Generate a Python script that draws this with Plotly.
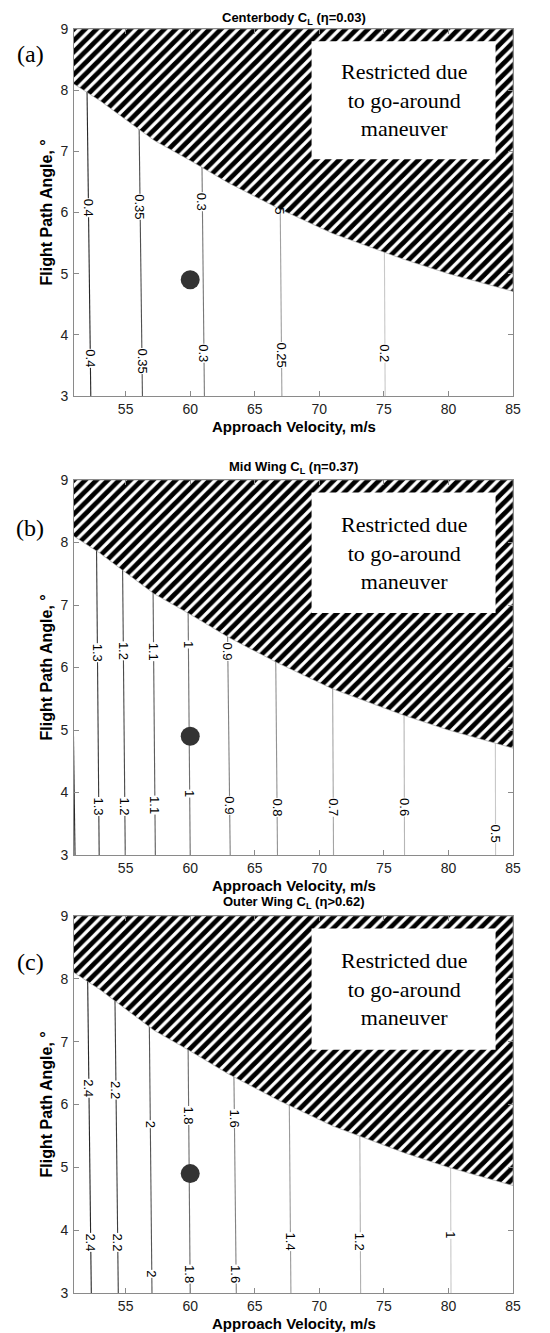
import plotly.graph_objects as go

# ---------------- data ----------------
panel_titles = ["Centerbody C<sub>L</sub> (η=0.03)",
                "Mid Wing C<sub>L</sub> (η=0.37)",
                "Outer Wing C<sub>L</sub> (η>0.62)"]
panel_tags = ["(a)", "(b)", "(c)"]

# restricted-region boundary (go-around limit)
boundary_v = [51, 53, 55, 57.2, 60, 63, 66.8, 71, 76.6, 80, 85]
boundary_gamma = [8.1, 7.83, 7.52, 7.18, 6.85, 6.48, 6.07, 5.66, 5.23, 5.0, 4.71]

# design point
design_v = [60]
design_gamma = [4.9]

# panel (a) contours
a_levels = ["0.4", "0.35", "0.3", "0.25", "0.2"]
a_v_low = [52.3, 56.3, 61.1, 67.1, 75.1]
a_v_high = [51.95, 55.95, 60.8, 66.85, 74.95]
a_lab_up = [6.07, 6.1, 6.17, None, None]
a_lab_low = [3.61, 3.58, 3.70, 3.67, 3.7]

# panel (b) contours
b_levels = ["1.4", "1.3", "1.2", "1.1", "1", "0.9", "0.8", "0.7", "0.6", "0.5"]
b_v_low = [51.08, 52.95, 54.97, 57.3, 60.0, 63.1, 66.76, 71.1, 76.6, 83.65]
b_v_high = [50.7, 52.7, 54.7, 57.05, 59.75, 62.75, 66.5, 70.95, 76.5, 83.6]
b_lab_up = [None, 6.23, 6.26, 6.26, 6.37, 6.26, None, None, None, None]
b_lab_low = [None, 3.78, 3.78, 3.8, 3.98, 3.8, 3.76, 3.76, 3.76, 3.35]

# panel (c) contours
c_levels = ["2.4", "2.2", "2", "1.8", "1.6", "1.4", "1.2", "1"]
c_v_low = [52.34, 54.43, 57.04, 60.0, 63.57, 67.8, 73.2, 80.2]
c_v_high = [52.0, 54.1, 56.75, 59.75, 63.25, 67.55, 73.05, 80.1]
c_lab_up = [6.26, 6.23, 5.69, 5.83, 5.77, None, None, None]
c_lab_low = [3.81, 3.81, 3.3, 3.3, 3.3, 3.81, 3.81, 3.92]

# partially hidden label fragments (under the hatch)
a_fragments = [("5", 66.95, 6.02)]

x_ticks = [55, 60, 65, 70, 75, 80, 85]
y_ticks = [3, 4, 5, 6, 7, 8, 9]
v_range = [51, 85]
g_range = [3, 9]

box_v = [69.4, 83.65]
box_g = [6.87, 8.8]
box_text = "Restricted due<br>to go-around<br>maneuver"

x_label = "Approach Velocity, m/s"
y_label = "Flight Path Angle, °"

# ---------------- layout geometry (pixels) ----------------
W, H = 550, 1333
plot_left, plot_right = 66, 505
panel_tops = [21, 472, 908]
panel_bottoms = [388, 847, 1285]
title_y = [10, 459, 894]
tag_offsets = [25, 48, 46]
xtitle_gap = 30

panels = [
    (a_levels, a_v_low, a_v_high, a_lab_up, a_lab_low, a_fragments),
    (b_levels, b_v_low, b_v_high, b_lab_up, b_lab_low, []),
    (c_levels, c_v_low, c_v_high, c_lab_up, c_lab_low, []),
]

fig = go.Figure()
annotations = []
shapes = []

def gray(i, n):
    lo, hi = 40, 200
    v = int(lo + (hi - lo) * i / max(n - 1, 1))
    return f"rgb({v},{v},{v})"

label_font = dict(family="Arial, Liberation Sans", size=13, color="black")

for p, (levels, vlo, vhi, lup, llow, frags) in enumerate(panels):
    xa = "x" if p == 0 else f"x{p+1}"
    ya = "y" if p == 0 else f"y{p+1}"
    n = len(levels)
    for i in range(n):
        fig.add_trace(go.Scatter(
            x=[vlo[i], vhi[i]], y=[g_range[0], g_range[1]],
            mode="lines", line=dict(color=gray(i, n), width=1.1),
            xaxis=xa, yaxis=ya, showlegend=False, hoverinfo="skip"))
    # design point
    fig.add_trace(go.Scatter(
        x=design_v, y=design_gamma, mode="markers",
        marker=dict(color="#333333", size=19, line=dict(width=0)),
        xaxis=xa, yaxis=ya, showlegend=False))
    # hatched restricted region
    fig.add_trace(go.Scatter(
        x=boundary_v + [v_range[1], v_range[0]],
        y=boundary_gamma + [g_range[1], g_range[1]],
        mode="lines", fill="toself", line=dict(width=0.6, color="#999999"),
        fillcolor="white",
        fillpattern=dict(shape="/", size=8, solidity=0.6, fgopacity=1,
                         fgcolor="black", bgcolor="white"),
        xaxis=xa, yaxis=ya, showlegend=False, hoverinfo="skip"))

    # contour labels
    for i in range(n):
        for yy in (lup[i], llow[i]):
            if yy is None:
                continue
            xx = vlo[i] + (vhi[i] - vlo[i]) * (yy - g_range[0]) / (g_range[1] - g_range[0])
            annotations.append(dict(
                x=xx, y=yy, xref=xa, yref=ya, text=levels[i], showarrow=False,
                xanchor="center", yanchor="middle",
                textangle=90, bgcolor="white", borderpad=0, font=label_font))
    for t, xx, yy in frags:
        annotations.append(dict(
            x=xx, y=yy, xref=xa, yref=ya, text=t, showarrow=False,
            xanchor="center", yanchor="middle",
            textangle=90, borderpad=0, font=label_font))

    # white text box
    shapes.append(dict(type="rect", xref=xa, yref=ya,
                       x0=box_v[0], x1=box_v[1], y0=box_g[0], y1=box_g[1],
                       fillcolor="white", line=dict(width=0), layer="above"))
    annotations.append(dict(
        x=(box_v[0] + box_v[1]) / 2, y=(box_g[0] + box_g[1]) / 2,
        xref=xa, yref=ya, text=box_text, showarrow=False, align="center",
        xanchor="center", yanchor="middle",
        font=dict(family="Liberation Serif, Times New Roman", size=22, color="black")))

    top = panel_tops[p]
    bottom = panel_bottoms[p]
    dom_y = [1 - bottom / H, 1 - top / H]
    axis_common = dict(showline=True, linecolor="#8a8a8a", linewidth=1, mirror="ticks",
                       ticks="inside", ticklen=5, tickcolor="#8a8a8a",
                       showgrid=False, zeroline=False,
                       tickfont=dict(family="Arial, Liberation Sans", size=14, color="#222222"),
                       automargin=False)
    fig.update_layout(**{
        ("xaxis" if p == 0 else f"xaxis{p+1}"): dict(
            domain=[plot_left / W, plot_right / W], range=v_range,
            tickvals=x_ticks, anchor=ya, ticklabelstandoff=0, **axis_common),
        ("yaxis" if p == 0 else f"yaxis{p+1}"): dict(
            domain=dom_y, range=g_range, tickvals=y_ticks, anchor=xa,
            ticklabelstandoff=2, **axis_common),
    })

    # titles and labels (paper coords)
    annotations.append(dict(
        x=(plot_left + plot_right) / 2 / W, y=1 - title_y[p] / H,
        xref="paper", yref="paper", xanchor="center", yanchor="middle",
        text="<b>" + panel_titles[p] + "</b>", showarrow=False,
        font=dict(family="Arial, Liberation Sans", size=13, color="black")))
    annotations.append(dict(
        x=22 / W, y=1 - (top + tag_offsets[p]) / H, xref="paper", yref="paper",
        xanchor="center", yanchor="middle",
        text=panel_tags[p], showarrow=False,
        font=dict(family="Liberation Serif, Times New Roman", size=24, color="black")))
    annotations.append(dict(
        x=(plot_left + plot_right) / 2 / W, y=1 - (bottom + xtitle_gap) / H,
        xref="paper", yref="paper", xanchor="center", yanchor="middle",
        text="<b>" + x_label + "</b>", showarrow=False,
        font=dict(family="Arial, Liberation Sans", size=15, color="black")))
    annotations.append(dict(
        x=38 / W, y=1 - (top + bottom) / 2 / H, xref="paper", yref="paper",
        xanchor="center", yanchor="middle",
        text="<b>" + y_label + "</b>", showarrow=False, textangle=-90,
        font=dict(family="Arial, Liberation Sans", size=16, color="black")))

fig.update_layout(width=W, height=H, margin=dict(l=0, r=0, t=0, b=0),
                  paper_bgcolor="white", plot_bgcolor="white",
                  annotations=annotations, shapes=shapes, showlegend=False)

fig.write_html("out.html")
